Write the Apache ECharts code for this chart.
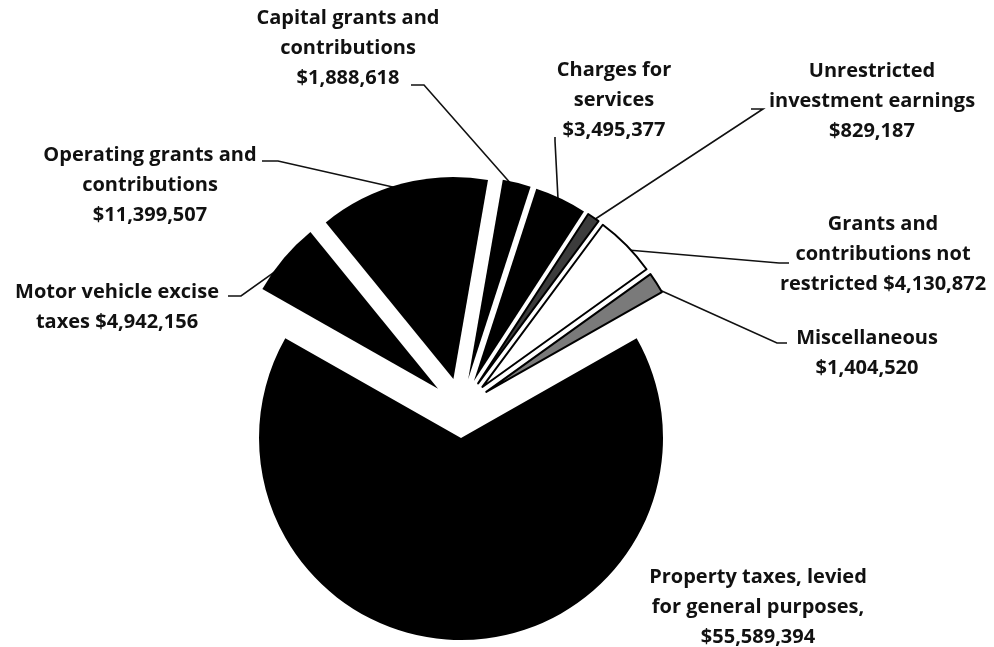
<!DOCTYPE html>
<html>
<head>
<meta charset="utf-8">
<script src="https://cdn.jsdelivr.net/npm/echarts@6/dist/echarts.min.js"></script>
<style>
  html, body { margin: 0; padding: 0; background: #ffffff; }
  #chart { width: 994px; height: 647px; }
</style>
</head>
<body>
<div id="chart"></div>
<script>
// Revenue sources, in clockwise drawing order
const categories = [
  'Property taxes, levied for general purposes',
  'Motor vehicle excise taxes',
  'Operating grants and contributions',
  'Capital grants and contributions',
  'Charges for services',
  'Unrestricted investment earnings',
  'Grants and contributions not restricted',
  'Miscellaneous'
];
const amounts = [55589394, 4942156, 11399507, 1888618, 3495377, 829187, 4130872, 1404520];

// Label text, wrapped; {v} is replaced with the formatted amount
const labelTemplates = [
  'Property taxes, levied\nfor general purposes,\n{v}',
  'Motor vehicle excise\ntaxes {v}',
  'Operating grants and\ncontributions\n{v}',
  'Capital grants and\ncontributions\n{v}',
  'Charges for\nservices\n{v}',
  'Unrestricted\ninvestment earnings\n{v}',
  'Grants and\ncontributions not\nrestricted {v}',
  'Miscellaneous\n{v}'
];

// ---- layout ----
const PIE_CENTER = [461, 408];
const PIE_RADIUS = 202;
const EXPLODE = 30;
const START_ANGLE = 29.6;

// centre of each label block
const labelAnchors = [
  [758, 607], [117, 307], [150, 185], [348, 48],
  [614, 100], [872, 101], [883, 254], [867, 353]
];
// leader line: [bendX, bendY, endX, endY]
const leaderBends = [
  null,
  [241, 296, 228, 296],
  [278, 161, 262, 161],
  [424, 85, 411, 85],
  [555, 141, 555, 137],
  [763, 109, 751, 109],
  [779, 263, 789, 263],
  [777, 343, 787, 343]
];
const sliceStyles = [
  { color: '#000000' },
  { color: '#000000' },
  { color: '#000000' },
  { color: '#000000' },
  { color: '#000000' },
  { color: '#3c3c3c', borderColor: '#000000', borderWidth: 2 },
  { color: '#ffffff', borderColor: '#000000', borderWidth: 2 },
  { color: '#7a7a7a', borderColor: '#000000', borderWidth: 2 }
];

const total = amounts.reduce((a, b) => a + b, 0);
const fmt = v => '$' + v.toLocaleString('en-US');

const midAngles = [];
let cum = 0;
amounts.forEach(v => {
  midAngles.push(START_ANGLE - (cum + v / 2) / total * 360);
  cum += v;
});

// One series per slice, each shifted outward along its own mid angle
const series = amounts.map((_, i) => {
  const rad = midAngles[i] * Math.PI / 180;
  const cx = PIE_CENTER[0] + EXPLODE * Math.cos(rad);
  const cy = PIE_CENTER[1] - EXPLODE * Math.sin(rad);
  return {
    type: 'pie',
    silent: true,
    animation: false,
    center: [cx, cy],
    radius: PIE_RADIUS,
    startAngle: START_ANGLE,
    clockwise: true,
    avoidLabelOverlap: false,
    data: amounts.map((v, j) => ({
      name: categories[j],
      value: v,
      itemStyle: j === i ? sliceStyles[i] : { color: 'rgba(0,0,0,0)', borderWidth: 0 },
      label: { show: j === i },
      labelLine: { show: j === i && !!leaderBends[i] }
    })),
    label: {
      formatter: p => labelTemplates[p.dataIndex].replace('{v}', fmt(p.value)),
      fontFamily: '"Open Sans", "Noto Sans", sans-serif',
      fontWeight: 'bold',
      fontSize: 20,
      lineHeight: 30,
      color: '#111111',
      align: 'center'
    },
    labelLine: {
      length: 10,
      length2: 10,
      lineStyle: { color: '#111111', width: 1.6 }
    },
    labelLayout: p => {
      if (p.dataIndex !== i) return {};
      const a = labelAnchors[i];
      const out = { x: a[0], y: a[1], align: 'center', verticalAlign: 'middle' };
      const b = leaderBends[i];
      if (b) {
        out.labelLinePoints = [
          [cx + PIE_RADIUS * 0.97 * Math.cos(rad), cy - PIE_RADIUS * 0.97 * Math.sin(rad)],
          [b[0], b[1]],
          [b[2], b[3]]
        ];
      }
      return out;
    }
  };
});

const chart = echarts.init(document.getElementById('chart'), null, { renderer: 'canvas' });
chart.setOption({
  backgroundColor: '#ffffff',
  animation: false,
  series: series
});
</script>
</body>
</html>
